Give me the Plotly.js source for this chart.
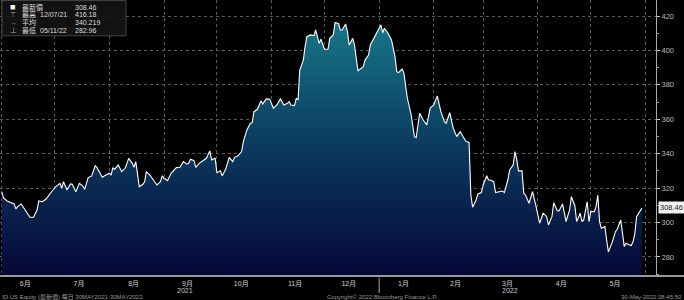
<!DOCTYPE html>
<html><head><meta charset="utf-8">
<script src="https://cdn.plot.ly/plotly-3.0.1.min.js"></script>
<style>html,body{margin:0;padding:0;background:#000;}</style>
</head><body><div id="chart" style="width:684px;height:300px;"></div>
<script>
const dates = [
'2021-06-01','2021-06-02','2021-06-04','2021-06-06','2021-06-08','2021-06-09','2021-06-10','2021-06-12','2021-06-13','2021-06-15','2021-06-17','2021-06-19','2021-06-21','2021-06-22','2021-06-24','2021-06-26','2021-06-27','2021-06-30',
'2021-07-02','2021-07-04','2021-07-05','2021-07-06','2021-07-08','2021-07-10','2021-07-11','2021-07-13','2021-07-15','2021-07-17','2021-07-18','2021-07-20','2021-07-22','2021-07-24','2021-07-25','2021-07-27','2021-07-28','2021-07-30',
'2021-08-01','2021-08-02','2021-08-03','2021-08-04','2021-08-06','2021-08-08','2021-08-10','2021-08-12','2021-08-14','2021-08-15','2021-08-16','2021-08-18','2021-08-20','2021-08-21','2021-08-22','2021-08-24','2021-08-26','2021-08-28','2021-08-30','2021-08-31',
'2021-09-01','2021-09-03','2021-09-05','2021-09-07','2021-09-08','2021-09-10','2021-09-12','2021-09-14','2021-09-15','2021-09-16','2021-09-18','2021-09-19','2021-09-21','2021-09-23','2021-09-25','2021-09-27','2021-09-28','2021-09-30',
'2021-10-01','2021-10-03','2021-10-04','2021-10-06','2021-10-08','2021-10-10','2021-10-11','2021-10-13','2021-10-15','2021-10-16','2021-10-18','2021-10-20','2021-10-21','2021-10-22','2021-10-24','2021-10-26','2021-10-27','2021-10-29','2021-10-31',
'2021-11-02','2021-11-04','2021-11-06','2021-11-08','2021-11-10','2021-11-11','2021-11-12','2021-11-14','2021-11-15','2021-11-16','2021-11-17','2021-11-19','2021-11-20','2021-11-21','2021-11-23','2021-11-25','2021-11-26','2021-11-27','2021-11-28','2021-11-29',
'2021-12-01','2021-12-03','2021-12-04','2021-12-06','2021-12-07','2021-12-09','2021-12-10','2021-12-11','2021-12-13','2021-12-14','2021-12-15','2021-12-17','2021-12-18','2021-12-20','2021-12-21','2021-12-23','2021-12-24','2021-12-26','2021-12-27','2021-12-29','2021-12-31',
'2022-01-01','2022-01-02','2022-01-03','2022-01-04','2022-01-06','2022-01-08','2022-01-10','2022-01-11','2022-01-12','2022-01-14','2022-01-15','2022-01-17','2022-01-19','2022-01-21','2022-01-22','2022-01-24','2022-01-26','2022-01-27','2022-01-28','2022-01-30',
'2022-02-01','2022-02-02','2022-02-03','2022-02-05','2022-02-07','2022-02-08','2022-02-09','2022-02-10','2022-02-12','2022-02-14','2022-02-15','2022-02-16','2022-02-18','2022-02-19','2022-02-21','2022-02-22','2022-02-23','2022-02-25','2022-02-26','2022-02-28',
'2022-03-01','2022-03-03','2022-03-04','2022-03-05','2022-03-07','2022-03-08','2022-03-10','2022-03-12','2022-03-13','2022-03-15','2022-03-16','2022-03-18','2022-03-19','2022-03-20','2022-03-21','2022-03-23','2022-03-24','2022-03-25','2022-03-27','2022-03-28','2022-03-29','2022-03-31',
'2022-04-02','2022-04-03','2022-04-04','2022-04-06','2022-04-07','2022-04-09','2022-04-10','2022-04-12','2022-04-13','2022-04-15','2022-04-16','2022-04-17','2022-04-19','2022-04-20','2022-04-22','2022-04-23','2022-04-25','2022-04-26','2022-04-27','2022-04-29','2022-04-30',
'2022-05-01','2022-05-03','2022-05-04','2022-05-05','2022-05-06','2022-05-07','2022-05-09','2022-05-10','2022-05-11','2022-05-13','2022-05-15','2022-05-16','2022-05-18','2022-05-20','2022-05-21','2022-05-23','2022-05-24','2022-05-25','2022-05-26','2022-05-27','2022-05-30'
];
const prices = [
317.9,314.3,312.5,311.4,310.8,307.9,309.2,310.8,309.2,306.3,303.1,303.1,307.3,312.5,312.1,313.5,315.0,318.9,
321.2,322.8,319.9,323.7,318.9,322.4,322.2,317.9,322.8,321.2,319.3,326.1,327.1,333.0,331.9,328.6,326.3,327.6,
328.6,327.6,331.9,330.9,333.4,329.6,331.5,337.3,334.4,332.1,335.4,320.8,322.2,323.7,329.6,327.6,324.7,321.8,323.7,327.2,
325.7,324.3,328.6,330.5,331.9,332.1,335.4,333.9,334.4,336.8,335.9,332.1,334.4,335.9,337.3,341.6,336.4,337.3,
329.0,330.1,327.1,331.1,337.8,335.4,337.9,338.8,341.2,347.0,353.8,357.7,358.0,364.4,365.8,370.8,368.9,371.8,371.6,
366.4,368.3,371.8,368.3,369.3,370.2,368.3,367.9,372.2,371.2,388.6,394.4,402.2,408.0,409.0,408.6,411.9,408.0,404.1,406.5,
400.7,400.7,407.0,409.0,416.18,415.5,411.9,411.9,415.4,410.9,403.2,407.0,403.2,388.2,389.0,390.5,394.4,397.3,403.2,407.0,410.9,
412.3,414.8,410.3,412.9,410.0,406.1,396.4,387.6,387.1,389.2,387.1,372.2,363.5,349.9,349.3,363.5,359.6,357.7,356.7,366.6,
368.3,371.2,373.5,364.4,358.6,357.7,361.5,363.8,354.8,349.9,351.5,352.8,349.3,347.4,346.4,316.0,308.9,313.1,316.6,317.4,
321.8,327.2,324.7,324.7,323.7,317.4,317.9,318.3,317.4,324.7,330.5,333.4,341.2,336.8,330.0,330.0,317.0,316.0,311.2,315.0,317.9,309.2,
299.6,302.5,305.4,303.4,298.6,303.4,311.5,306.9,306.7,310.8,306.3,300.5,307.3,315.0,309.6,300.5,305.4,300.5,301.5,312.1,300.5,
306.3,306.3,309.2,316.0,300.5,296.7,297.6,289.9,282.96,288.0,294.7,296.1,301.5,286.0,288.0,287.0,286.6,288.9,293.4,303.4,308.46
];
const legendIcons = ['■','⊤','→','⊥'];
const legendLabels = ['最新價','最高','平均','最低'];
const legendDates = ['','12/07/21','','05/11/22'];
const legendValues = ['308.46','416.18','340.219','282.96'];
const yearLabels = ['2021','2022'];
const yearPositions = ['2021-09-13','2022-03-16'];
const lastValue = '308.46';
const footerLeft = 'ID US Equity (最新價) 每日 30MAY2021-30MAY2022';
const footerMid = 'Copyright© 2022 Bloomberg Finance L.P.';
const footerRight = '30-May-2022 08:45:50';

const FONT = 'Liberation Sans, Noto Sans CJK TC, sans-serif';
const trace = {
  x: dates, y: prices, type: 'scatter', mode: 'lines',
  line: {color: '#ffffff', width: 1.1},
  fill: 'tozeroy',
  fillgradient: {type: 'vertical', start: 270, stop: 420,
    colorscale: [[0, '#060838'], [0.5, '#0b3a60'], [1, '#187a8a']]},
  hoverinfo: 'skip'
};

const rowsY = [0.9745, 0.946, 0.918, 0.890];
const ann = [];
for (let i = 0; i < legendLabels.length; i++) {
  const f = {family: FONT, size: 7, color: '#dddddd'};
  ann.push({xref:'paper', yref:'paper', x:0.012, y:rowsY[i], xanchor:'left', yanchor:'middle', text: legendIcons[i], showarrow:false, font:{family: FONT, size: i===0?9:7, color: i===0?'#ffffff':'#aaaaaa'}});
  ann.push({xref:'paper', yref:'paper', x:0.030, y:rowsY[i], xanchor:'left', yanchor:'middle', text: legendLabels[i], showarrow:false, font:f});
  if (legendDates[i]) ann.push({xref:'paper', yref:'paper', x:0.058, y:rowsY[i], xanchor:'left', yanchor:'middle', text: legendDates[i], showarrow:false, font:f});
  ann.push({xref:'paper', yref:'paper', x:0.111, y:rowsY[i], xanchor:'left', yanchor:'middle', text: legendValues[i], showarrow:false, font:f});
}
for (let i = 0; i < yearLabels.length; i++) {
  ann.push({xref:'x', yref:'paper', x: yearPositions[i], y:-0.058, xanchor:'center', yanchor:'middle', text: yearLabels[i], showarrow:false, font:{family: FONT, size: 7, color:'#cccccc'}});
}
ann.push({xref:'paper', yref:'paper', x:0.0, y:-0.08, xanchor:'left', yanchor:'middle', text: footerLeft, showarrow:false, font:{family: FONT, size: 6, color:'#999999'}});
ann.push({xref:'paper', yref:'paper', x:0.495, y:-0.08, xanchor:'left', yanchor:'middle', text: footerMid, showarrow:false, font:{family: FONT, size: 6, color:'#999999'}});
ann.push({xref:'paper', yref:'paper', x:1.0427, y:-0.08, xanchor:'right', yanchor:'middle', text: footerRight, showarrow:false, font:{family: FONT, size: 6, color:'#999999'}});
ann.push({xref:'paper', yref:'y', x:1.003, y: parseFloat(lastValue), xanchor:'left', yanchor:'middle', text: lastValue, showarrow:false, bgcolor:'#f0f0f0', borderpad:1, font:{family: FONT, size: 7.5, color:'#222222'}});

const layout = {
  width: 684, height: 300,
  margin: {l: 0, r: 28, t: 0, b: 25, pad: 0},
  paper_bgcolor: '#000000', plot_bgcolor: '#000000',
  showlegend: false,
  font: {family: FONT, color: '#cccccc', size: 7},
  xaxis: {
    type: 'date', range: ['2021-05-31', '2022-06-07'],
    dtick: 'M1', tick0: '2021-06-01', ticklabelmode: 'period', tickformat: '%-m月',
    ticklabelshift: -3, ticklabelstandoff: 1,
    showgrid: true, gridcolor: '#5a5a5a', griddash: 'dot', gridwidth: 1,
    ticks: '', showline: true, linecolor: '#9a9a9a', linewidth: 2,
    tickfont: {family: FONT, size: 7, color: '#d0d0d0'}, zeroline: false, fixedrange: true
  },
  yaxis: {
    side: 'right', range: [269.5, 429.3], dtick: 20, tick0: 0,
    showgrid: true, gridcolor: '#5a5a5a', griddash: 'dot', gridwidth: 1,
    ticks: 'outside', ticklen: 3, tickcolor: '#cccccc',
    minor: {dtick: 10, ticks: 'outside', ticklen: 2, tickcolor: '#999999', showgrid: false},
    showline: true, linecolor: '#aaaaaa', linewidth: 1,
    tickfont: {family: FONT, size: 7.5, color: '#bbbbbb'}, zeroline: false, fixedrange: true
  },
  shapes: [
    {type:'rect', xref:'paper', yref:'paper', x0:0.003, x1:0.192, y0:0.870, y1:0.998, line:{color:'#444444', width:1}, fillcolor:'rgba(20,20,20,0.9)', layer:'above'},
    {type:'line', xref:'paper', yref:'paper', x0:1, x1:1.05, y0:-0.004, y1:-0.004, line:{color:'#9a9a9a', width:2}},
    {type:'line', xref:'x', yref:'paper', x0:'2022-01-01', x1:'2022-01-01', y0:-0.01, y1:-0.065, line:{color:'#aaaaaa', width:1}}
  ],
  annotations: ann
};
Plotly.newPlot('chart', [trace], layout, {staticPlot: true, displayModeBar: false});
</script></body></html>
